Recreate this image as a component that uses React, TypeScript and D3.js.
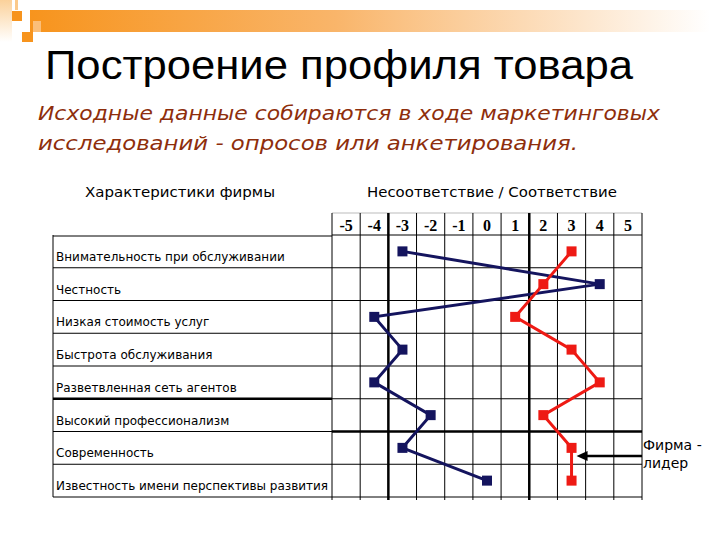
import React from 'react';
import * as d3 from 'd3';

// characteristics of the firm (rows, top to bottom)
const characteristics = [
  'Внимательность при обслуживании',
  'Честность',
  'Низкая стоимость услуг',
  'Быстрота обслуживания',
  'Разветвленная сеть агентов',
  'Высокий профессионализм',
  'Современность',
  'Известность имени перспективы развития',
];

// scale -5..5
const scaleTicks = [-5, -4, -3, -2, -1, 0, 1, 2, 3, 4, 5];

// profile of our firm (navy) and of the leader (red)
const firmValues = [-3, 4, -4, -3, -4, -2, -3, 0];
const leaderValues = [3, 2, 1, 3, 4, 2, 3, 3];

const title = 'Построение профиля товара';
const subtitleLines = [
  'Исходные данные собираются в ходе маркетинговых',
  'исследований - опросов или анкетирования.',
];

const W = 720;
const H = 540;

const navy = '#14145e';
const red = '#ee1a14';
const brown = '#8e2e0c';
const comic = '"DejaVu Sans", "Noto Sans", sans-serif';

export default function App() {
  const x = d3.scaleBand<number>().domain(scaleTicks).range([332, 642]);
  const y = d3.scaleBand<string>().domain(characteristics).range([235, 497]);
  const headerTop = 213;
  const tableLeft = 53;

  const cx = (v: number) => (x(v) ?? 0) + x.bandwidth() / 2;
  const cy = (i: number) => (y(characteristics[i]) ?? 0) + y.bandwidth() / 2;

  const line = d3
    .line<number>()
    .x((v) => cx(v))
    .y((_, i) => cy(i));

  const colEdges = scaleTicks.map((t) => x(t) ?? 0).concat([x.range()[1]]);
  const rowEdges = characteristics.map((c) => y(c) ?? 0).concat([y.range()[1]]);

  const markerSize = 10;
  const leaderIdx = 6;
  const arrowY = cy(leaderIdx) + 8;
  const arrowTip = cx(leaderValues[leaderIdx]) + 5;

  return (
    <svg
      width={W}
      height={H}
      style={{ position: 'absolute', left: 0, top: 0, background: '#fff' }}
    >
      <defs>
        <linearGradient id="bar" x1="0" x2="1" y1="0" y2="0">
          <stop offset="0" stopColor="#f7941d" />
          <stop offset="0.45" stopColor="#f9b56a" />
          <stop offset="1" stopColor="#ffffff" />
        </linearGradient>
        <linearGradient id="fade" x1="0" x2="0" y1="0" y2="1">
          <stop offset="0" stopColor="#fbd19a" />
          <stop offset="1" stopColor="#ffffff" />
        </linearGradient>
      </defs>

      {/* decoration top-left */}
      <rect x={0} y={0} width={12} height={42} fill="url(#fade)" />
      <rect x={30} y={10} width={680} height={22} fill="url(#bar)" />
      <rect x={15} y={0} width={3} height={10} fill="#fbc98a" />
      <rect x={12} y={11} width={10} height={10} fill="#f7941d" />
      <rect x={22} y={32} width={11} height={10} fill="#f7941d" />
      <rect x={33} y={21} width={8} height={11} fill="#fbbf7a" />

      {/* title */}
      <text x={45} y={79} fontFamily='"Liberation Sans", Arial, sans-serif' fontSize={40} textLength={588} lengthAdjust="spacingAndGlyphs">
        {title}
      </text>
      {subtitleLines.map((s, i) => (
        <text
          key={s}
          x={38}
          y={120 + i * 30}
          fill={brown}
          fontFamily={comic}
          fontStyle="italic"
          fontSize={20}
          textLength={i === 0 ? 622 : 540}
          lengthAdjust="spacingAndGlyphs"
        >
          {s}
        </text>
      ))}

      {/* column headers */}
      <text x={85} y={197} fontFamily={comic} fontSize={14} textLength={190} lengthAdjust="spacingAndGlyphs">
        Характеристики фирмы
      </text>
      <text x={367} y={197} fontFamily={comic} fontSize={14} textLength={250} lengthAdjust="spacingAndGlyphs">
        Несоответствие / Соответствие
      </text>

      {/* grid header */}
      <line x1={x.range()[0]} x2={x.range()[1]} y1={headerTop} y2={headerTop} stroke="#bbb" />
      {scaleTicks.map((t) => (
        <text
          key={t}
          x={cx(t)}
          y={231}
          textAnchor="middle"
          fontFamily='"Liberation Serif", "Times New Roman", serif'
          fontWeight="bold"
          fontSize={16}
        >
          {t}
        </text>
      ))}

      {/* grid columns */}
      {colEdges.map((e, i) => (
        <line
          key={'c' + i}
          x1={e}
          x2={e}
          y1={headerTop}
          y2={y.range()[1] + 3}
          stroke="#000"
          strokeWidth={i === 2 || i === 7 ? 2.5 : 1}
        />
      ))}
      {/* grid rows */}
      {rowEdges.map((e, i) => (
        <line
          key={'r' + i}
          x1={x.range()[0]}
          x2={x.range()[1]}
          y1={e}
          y2={e}
          stroke="#000"
          strokeWidth={i === 6 ? 2.5 : 1}
        />
      ))}

      {/* left table */}
      <line x1={tableLeft} x2={tableLeft} y1={y.range()[0]} y2={y.range()[1]} stroke="#000" />
      {rowEdges.map((e, i) => (
        <line
          key={'l' + i}
          x1={tableLeft}
          x2={x.range()[0]}
          y1={e + (i === 0 ? 1 : 0)}
          y2={e + (i === 0 ? 1 : 0)}
          stroke="#000"
          strokeWidth={i === 5 ? 2.5 : 1}
        />
      ))}
      {characteristics.map((c) => (
        <text
          key={c}
          x={tableLeft + 3}
          y={(y(c) ?? 0) + y.bandwidth() - 7}
          fontFamily='"DejaVu Sans", sans-serif'
          fontSize={12}
        >
          {c}
        </text>
      ))}

      {/* profiles */}
      <path d={line(firmValues) ?? ''} fill="none" stroke={navy} strokeWidth={3} />
      <path d={line(leaderValues) ?? ''} fill="none" stroke={red} strokeWidth={3} />
      {firmValues.map((v, i) => (
        <rect key={'f' + i} x={cx(v) - markerSize / 2} y={cy(i) - markerSize / 2} width={markerSize} height={markerSize} fill={navy} />
      ))}
      {leaderValues.map((v, i) => (
        <rect key={'d' + i} x={cx(v) - markerSize / 2} y={cy(i) - markerSize / 2} width={markerSize} height={markerSize} fill={red} />
      ))}

      {/* leader annotation */}
      <line x1={x.range()[1]} x2={arrowTip + 8} y1={arrowY} y2={arrowY} stroke="#000" strokeWidth={2.5} />
      <path
        d={`M${arrowTip},${arrowY} L${arrowTip + 11},${arrowY - 5} L${arrowTip + 11},${arrowY + 5} Z`}
        fill="#000"
      />
      <text x={643} y={450} fontFamily={comic} fontSize={14}>
        Фирма -
      </text>
      <text x={643} y={468} fontFamily={comic} fontSize={14}>
        лидер
      </text>
    </svg>
  );
}
